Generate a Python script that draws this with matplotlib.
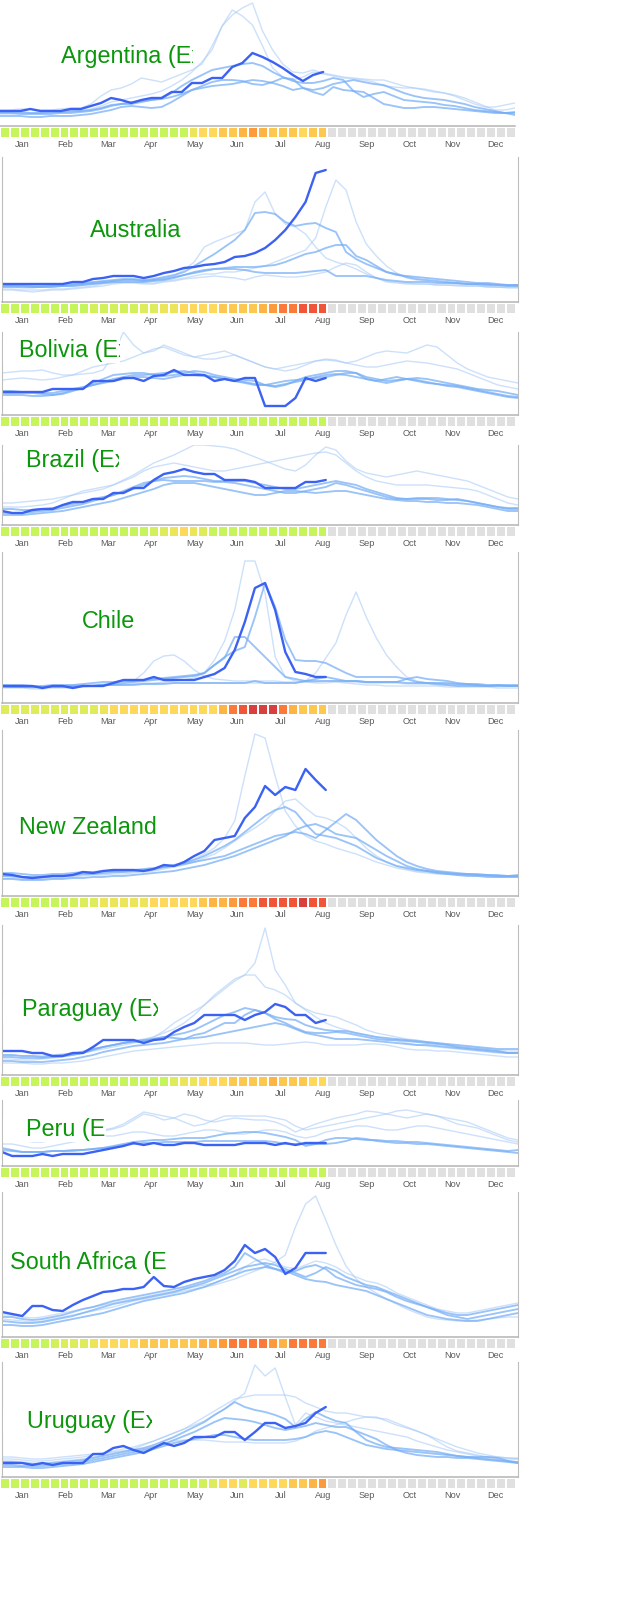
import numpy as np
import matplotlib
matplotlib.use("Agg")
import matplotlib.pyplot as plt
from matplotlib.patches import Rectangle
from matplotlib.transforms import Bbox, TransformedBbox

MONTHS = ["Jan", "Feb", "Mar", "Apr", "May", "Jun", "Jul", "Aug", "Sep", "Oct", "Nov", "Dec"]
LEVEL_COLORS = ["#c5f55a", "#d2f05a", "#dcec5a", "#ece55a", "#fdd85a", "#fdc850",
                "#fdb444", "#fd9a3c", "#fb7a3a", "#f0553a", "#d83f3f"]
NO_DATA = "#e0e0e0"
N_WEEKS = 52

# ---------------- Argentina ----------------
ARG_2009 = [15,15,15,17,15,15,15,17,17,20,23,28,26,23,26,28,28,34,34,43,43,48,48,59,63,73,69,64,58,51,45,51,54]
ARG_MED = [
    [13,13,12,12,12,12,13,13,14,15,17,20,22,22,24,26,28,33,40,46,51,56,58,60,62,63,60,54,49,45,43,43,45,48,46,35,29,32,34,30,26,25,24,23,21,20,18,16,15,14,13,14],
    [10,10,10,9,9,10,10,10,11,12,14,16,19,20,19,18,19,24,30,36,40,44,46,46,45,42,41,44,48,47,38,36,38,42,44,46,44,42,41,37,33,30,28,27,26,24,22,19,17,15,13,11],
    [14,14,14,13,13,14,14,15,15,16,18,21,22,24,25,26,27,29,32,36,38,40,41,42,44,46,45,43,40,36,38,34,31,39,36,35,34,28,22,20,18,18,19,19,18,17,16,15,14,13,13,13],
]
ARG_PALE = [
    [16,16,17,17,16,16,17,18,18,22,30,36,38,42,48,46,44,48,52,56,62,80,100,111,118,123,95,76,62,54,53,56,53,51,49,48,47,46,46,43,40,38,36,34,33,30,26,22,19,19,21,23],
    [12,12,13,13,13,13,14,14,15,17,20,24,26,28,30,32,35,40,46,54,64,76,100,116,110,101,80,58,49,46,49,54,52,50,48,47,46,44,40,39,38,38,37,35,33,31,28,24,20,16,16,18],
]
ARG_FLU = [0,0,0,0,0,0,0,0,0,0,0,0,0,0,0,0,0,0,0,3,4,4,5,5,6,7,6,5,5,5,4,5,5]

# ---------------- Australia ----------------
AUS_2009 = [18,18,18,18,18,18,18,20,20,23,24,26,26,26,24,26,29,31,34,35,37,38,40,45,46,49,54,62,72,85,100,129,132]
AUS_MED = [
    [17,17,17,16,16,17,17,18,19,20,21,22,23,23,22,23,25,27,30,36,42,48,55,62,72,89,90,88,80,76,78,79,74,70,50,43,38,34,30,28,25,23,22,21,20,19,18,18,17,17,16,16],
    [16,16,16,15,15,16,16,17,18,19,20,21,22,22,21,22,23,25,27,29,31,33,34,35,35,35,36,37,40,44,48,50,54,57,57,46,42,36,30,27,26,25,24,23,22,21,20,19,19,18,17,17],
    [15,15,15,15,15,15,16,16,17,18,19,20,20,20,20,21,22,24,27,30,32,33,33,33,32,30,29,29,29,29,30,31,32,26,26,26,26,24,22,21,20,20,20,19,19,19,18,18,18,17,17,17],
]
AUS_PALE = [
    [15,15,14,14,15,15,16,16,17,18,19,20,22,22,21,22,24,26,32,40,55,60,64,68,72,100,110,88,78,75,68,55,44,40,37,33,28,24,21,20,19,18,18,17,17,17,16,16,15,15,15,15],
    [13,13,12,12,12,13,13,14,15,16,18,19,20,20,19,19,21,22,24,26,28,28,30,30,32,34,36,40,44,48,52,64,95,122,112,80,58,46,36,29,24,22,21,20,19,18,18,17,16,15,15,15],
    [12,12,11,10,11,12,12,13,14,15,16,18,19,19,18,18,20,21,23,24,25,26,25,24,22,25,27,26,25,25,26,28,30,35,39,37,30,24,20,19,18,18,18,17,17,16,16,16,15,15,14,14],
]
AUS_FLU = [0,0,0,0,0,0,0,0,0,1,1,1,1,1,2,2,3,3,4,4,4,4,5,5,5,5,6,7,8,8,9,9,9]

# ---------------- Bolivia ----------------
BOL_2009 = [23,23,23,23,23,26,26,26,26,34,34,34,37,37,34,39,40,45,40,40,40,34,36,34,37,37,9,9,9,17,37,34,37]
BOL_MED = [
    [22,22,22,22,21,20,22,25,27,32,36,40,41,42,42,40,39,40,42,44,43,40,38,36,35,34,30,28,30,34,38,40,42,44,44,42,38,36,34,35,36,37,36,34,32,30,28,26,25,24,22,20],
    [24,24,23,23,22,22,24,26,28,30,33,36,38,40,40,41,42,43,44,42,40,38,36,34,32,30,30,29,31,33,35,38,40,41,40,38,36,34,32,34,36,35,33,31,29,28,26,24,22,20,18,17],
    [20,20,20,19,19,20,21,24,27,30,32,34,36,38,38,37,36,38,40,40,39,38,36,34,33,31,30,32,34,35,36,37,38,40,42,42,36,34,36,38,36,34,32,31,30,29,27,25,23,21,19,18],
]
BOL_PALE = [
    [42,43,44,44,45,42,40,40,41,42,45,60,83,70,62,64,70,66,62,58,60,62,64,60,56,52,48,46,44,46,50,54,56,55,52,54,58,62,64,63,62,66,70,68,60,52,46,42,38,36,34,32],
    [35,36,37,36,35,36,38,40,44,48,50,52,54,58,62,66,68,64,60,58,56,56,58,60,56,52,48,46,48,50,52,54,55,54,52,50,48,48,50,52,54,53,52,50,48,46,42,38,34,30,28,26],
]
BOL_FLU = [0,0,0,0,0,0,0,0,0,0,0,0,0,0,0,0,0,0,0,0,0,0,0,0,0,0,0,0,0,0,0,0,0]

# ---------------- Brazil ----------------
BRA_2009 = [14,12,12,15,16,16,20,23,23,26,26,32,32,37,37,45,51,53,56,53,51,51,45,45,45,43,37,37,37,37,43,43,45]
BRA_MED = [
    [16,16,15,15,16,17,19,21,23,26,28,30,33,36,40,44,47,48,49,48,46,44,44,44,44,42,40,38,36,36,38,40,42,44,42,40,36,33,30,27,26,26,26,25,25,26,24,22,20,18,17,17],
    [12,12,12,13,14,15,17,19,21,24,27,30,34,38,42,44,45,44,44,44,44,43,43,42,40,38,36,34,32,32,34,36,38,42,40,37,34,31,28,26,26,27,27,27,26,25,24,22,20,18,16,16],
    [10,10,10,11,12,13,14,16,18,20,22,24,27,30,33,36,40,42,42,42,40,38,36,34,32,30,30,32,34,34,33,32,33,34,34,32,30,28,26,25,24,24,23,23,22,22,21,20,18,16,14,14],
]
BRA_PALE = [
    [22,22,23,24,25,26,28,30,32,34,36,40,45,50,56,62,66,70,75,80,80,79,78,76,72,68,64,60,56,54,60,70,78,75,64,56,52,50,48,50,52,54,52,50,48,46,44,40,36,32,28,26],
    [18,18,18,19,20,22,26,30,34,36,38,40,44,48,54,58,60,62,60,58,56,54,54,56,58,60,62,64,66,68,70,72,73,70,62,54,48,44,42,40,40,40,40,39,38,37,36,34,30,26,22,20],
]
BRA_FLU = [0,0,0,0,0,0,0,0,0,0,0,0,0,0,0,1,2,3,4,3,2,0,0,0,0,0,0,0,0,0,0,0,0]

# ---------------- Chile ----------------
CHL_2009 = [17,17,17,17,15,17,17,15,17,17,17,20,23,23,23,26,23,23,23,23,26,29,35,53,81,115,120,93,51,31,29,26,26]
CHL_MED = [
    [16,16,16,16,16,16,16,17,17,17,18,19,20,21,22,23,24,25,26,27,30,38,46,52,56,86,120,96,63,43,42,42,40,35,30,26,26,26,26,26,24,21,20,19,18,17,17,17,17,17,17,17],
    [18,18,18,17,17,18,18,18,19,20,21,21,22,22,23,24,25,26,27,28,30,38,45,66,66,56,46,36,26,24,22,22,22,22,22,22,21,21,21,21,20,20,20,20,20,19,19,19,18,18,18,18],
    [17,16,16,16,16,17,17,17,17,17,18,18,18,18,19,19,19,20,20,20,20,20,20,20,20,22,20,20,20,20,22,24,26,24,22,22,21,21,21,21,24,26,24,23,22,20,19,18,17,18,17,17],
]
CHL_PALE = [
    [15,15,15,14,14,15,15,15,16,17,18,18,19,19,20,20,21,22,23,25,30,43,62,93,142,142,110,46,26,22,21,20,20,21,20,19,18,18,17,17,17,17,17,17,16,16,16,16,16,15,15,15],
    [16,16,16,15,15,16,16,16,17,17,18,18,18,19,19,19,20,20,20,20,20,20,20,20,20,20,20,20,20,20,22,30,45,60,88,111,86,65,48,36,26,22,20,20,19,19,18,18,17,17,17,17],
    [17,17,16,16,16,17,17,18,18,18,19,20,22,22,30,42,47,48,42,33,27,24,23,22,22,22,22,22,21,21,21,21,22,22,21,21,20,20,20,20,19,19,19,18,18,18,18,17,17,17,17,17],
]
CHL_FLU = [2,2,2,2,2,2,2,2,2,2,3,4,4,4,4,4,4,4,4,4,4,4,6,8,9,10,10,10,8,6,5,5,5]

# ---------------- New Zealand ----------------
NZL_2009 = [22,21,19,18,19,20,20,21,24,23,25,26,26,26,25,27,31,30,34,40,45,56,58,60,78,89,110,101,109,106,127,116,106]
NZL_MED = [
    [23,23,22,21,21,22,22,23,24,24,25,25,26,26,27,28,29,30,32,34,36,38,40,44,48,52,56,60,62,64,62,58,66,74,82,76,66,56,48,40,34,30,27,25,24,23,22,22,21,21,20,21],
    [20,20,19,19,19,20,20,21,22,22,23,24,24,25,26,27,29,31,33,36,40,45,50,56,64,72,80,86,89,84,72,62,60,58,54,50,44,38,34,30,28,26,25,24,23,22,22,21,21,20,20,20],
    [17,17,16,16,16,17,17,18,18,19,19,20,20,21,22,23,24,25,27,29,31,34,37,40,44,48,52,56,60,66,70,72,68,62,60,58,52,46,40,35,30,27,25,23,22,21,20,20,19,19,19,19],
]
NZL_PALE = [
    [20,19,18,18,18,19,19,20,21,22,22,23,24,24,25,26,28,30,33,37,42,48,58,75,120,162,158,120,85,70,60,55,52,48,45,42,38,34,31,28,26,24,23,22,22,21,21,20,20,19,19,19],
    [18,18,17,17,17,18,18,19,20,21,21,22,22,23,24,25,27,29,31,34,38,42,48,55,62,68,75,85,95,97,88,80,78,74,68,58,48,40,34,30,27,25,24,23,22,22,21,21,20,20,20,20],
]
NZL_FLU = [0,0,0,0,0,0,0,1,2,2,3,3,3,3,3,4,4,4,4,4,5,6,6,7,8,8,9,9,9,9,10,9,9]

# ---------------- Paraguay ----------------
PRY_2009 = [24,24,24,22,22,19,19,22,22,28,35,35,35,35,32,35,36,43,48,52,60,60,60,60,55,60,63,71,68,60,60,52,55]
PRY_MED = [
    [18,18,17,17,17,18,19,20,22,25,28,30,32,34,35,36,38,40,42,45,50,55,60,63,67,65,62,56,52,47,43,42,42,43,42,40,38,36,35,35,34,33,32,31,30,28,27,26,25,24,22,22],
    [20,20,19,19,18,19,20,21,23,26,28,30,32,33,34,36,38,37,36,40,42,47,52,52,60,65,62,58,56,55,50,47,45,44,44,42,40,38,37,36,35,34,33,32,31,30,29,28,27,26,26,26],
    [14,14,13,13,13,14,15,16,18,20,23,25,27,29,30,31,32,34,36,37,38,40,42,44,46,48,50,52,50,46,42,40,38,36,36,36,35,34,33,32,31,30,30,29,28,27,26,25,24,23,22,22],
]
PRY_PALE = [
    [20,20,19,19,19,20,21,22,24,26,28,30,32,34,36,38,42,46,52,60,70,80,88,96,100,112,147,105,90,72,66,62,60,58,54,50,45,42,40,38,36,35,33,32,30,29,28,27,26,25,24,24],
    [16,16,15,15,16,17,18,20,22,24,26,28,30,32,34,38,44,52,58,64,70,78,86,94,100,100,88,85,80,72,65,58,52,48,45,42,40,38,36,34,32,30,29,28,27,26,25,24,23,22,22,22],
    [12,12,12,11,11,12,12,13,14,16,18,20,22,24,25,26,27,28,29,30,31,32,32,32,32,31,30,30,31,32,33,32,30,30,30,30,31,31,30,28,26,25,25,24,24,23,22,21,20,19,18,18],
]
PRY_FLU = [0,0,0,0,0,0,0,0,0,0,0,0,0,0,0,0,0,2,3,3,4,4,4,5,5,5,5,6,5,5,5,4,4]

# ---------------- Peru ----------------
PER_2009 = [14,10,10,10,12,10,12,12,12,14,16,18,20,23,21,23,21,21,23,23,21,21,21,21,23,23,23,21,23,21,23,23,23]
PER_MED = [
    [18,16,14,14,14,15,15,15,16,17,18,20,22,24,25,26,26,27,28,28,28,30,32,33,34,34,33,31,29,26,20,22,26,28,28,27,26,26,25,25,24,24,23,22,21,20,19,18,17,16,15,16],
    [16,15,14,14,14,15,15,16,16,17,18,19,21,22,23,23,24,24,24,24,25,25,25,25,25,25,25,24,22,22,22,22,22,23,25,28,27,25,24,23,23,22,22,21,20,19,18,17,16,15,14,13],
]
PER_PALE = [
    [30,32,34,33,30,28,28,30,32,34,35,37,40,46,52,50,46,48,52,50,46,44,46,48,47,46,46,44,40,34,38,42,45,48,50,52,55,54,52,55,56,54,52,50,48,46,44,40,36,32,28,26],
    [28,28,26,24,24,26,28,30,32,34,36,38,42,48,54,52,50,48,44,40,42,46,50,50,50,50,50,48,46,40,36,38,40,42,44,46,48,50,52,50,48,50,52,50,46,42,40,38,34,30,26,24],
    [22,22,20,18,18,20,22,24,26,28,30,30,32,34,34,32,30,30,32,34,36,36,34,32,32,34,36,36,34,30,28,30,34,36,38,40,40,38,36,36,38,40,40,38,36,34,32,30,28,26,24,22],
]
PER_FLU = [0,0,0,0,0,0,0,0,0,0,0,0,0,0,0,0,0,0,0,0,0,0,0,0,0,0,0,0,0,0,0,0,0]

# ---------------- South Africa ----------------
ZAF_2009 = [25,23,21,31,31,27,26,32,37,41,45,46,48,48,50,60,51,50,55,58,60,62,67,76,92,84,88,80,63,69,84,84,84]
ZAF_MED = [
    [20,20,18,17,18,20,22,25,28,30,33,36,38,40,42,44,46,48,50,53,56,60,64,70,84,78,72,68,64,66,70,72,68,60,56,52,50,48,45,40,36,33,30,27,24,22,22,24,26,28,30,32],
    [16,15,14,14,15,17,19,21,24,27,30,33,35,37,39,41,43,45,48,51,54,58,62,66,70,72,74,72,68,64,60,64,70,66,60,56,52,50,46,42,38,34,30,26,22,20,18,20,22,24,26,28],
    [12,12,11,11,12,14,16,18,20,22,24,27,30,33,36,38,40,42,44,47,50,54,58,62,66,68,70,68,66,62,58,56,55,52,50,48,46,42,38,34,30,26,22,20,18,17,16,16,18,20,22,24],
]
ZAF_PALE = [
    [18,17,16,15,16,18,20,22,24,26,28,30,33,36,38,40,42,44,46,48,50,52,55,58,62,66,70,75,82,110,133,141,117,92,71,58,50,44,38,33,28,24,20,18,17,16,16,17,18,19,20,20],
    [22,22,20,19,20,22,24,26,28,30,32,34,36,38,40,42,44,46,48,50,52,54,58,62,70,76,78,74,70,68,72,76,74,70,64,60,56,54,50,44,40,36,32,28,26,24,24,26,28,30,32,34],
]
ZAF_FLU = [0,0,0,0,0,1,2,2,2,3,4,4,4,4,5,5,5,5,5,5,6,6,7,8,8,8,8,7,6,8,8,8,8]

# ---------------- Uruguay ----------------
URY_2009 = [14,14,14,12,14,12,14,14,14,23,23,29,31,27,24,29,34,31,34,40,40,40,45,45,37,45,54,54,49,51,54,64,70]
URY_MED = [
    [15,15,14,13,13,14,15,16,17,19,21,23,25,27,29,32,36,40,45,50,55,62,68,75,70,67,65,62,58,50,58,65,60,56,54,45,37,33,30,29,28,27,26,25,23,21,20,20,20,19,16,14],
    [12,12,11,11,11,12,13,14,15,17,19,21,23,25,27,30,33,37,41,45,50,55,59,58,57,55,52,49,47,49,51,54,52,50,50,46,42,38,32,27,24,22,21,20,20,19,19,18,17,16,15,14],
    [10,10,10,9,9,10,11,12,13,15,17,19,21,23,25,28,31,34,36,38,40,42,42,40,38,37,37,37,37,38,40,44,46,44,40,36,32,30,28,27,26,25,24,23,22,21,20,19,18,17,16,15],
]
URY_PALE = [
    [16,16,15,14,14,15,16,17,18,20,22,24,26,28,32,36,40,44,48,52,56,62,68,76,84,112,101,109,80,52,64,60,56,54,52,50,48,46,44,42,40,36,33,30,27,25,23,21,20,19,18,18],
    [18,18,17,16,16,17,18,19,20,22,24,26,28,30,33,36,40,44,48,54,60,66,72,78,80,82,82,82,82,80,74,70,66,64,64,62,60,59,58,54,50,46,42,38,34,30,27,24,22,20,19,18],
    [20,20,19,18,18,19,20,21,22,23,24,25,26,27,28,30,33,36,37,37,37,36,35,35,35,34,34,34,34,36,40,46,49,52,55,58,60,60,56,52,49,46,42,36,30,26,24,22,20,20,19,19],
]
URY_FLU = [0,0,0,0,0,0,0,0,0,0,0,0,0,0,0,0,0,0,0,0,1,2,4,4,2,4,4,4,4,5,5,6,7]

# ---------------- layout (pixel geometry and titles) ----------------
PANELS = [
    # title, current, medium, pale, flu levels, top, bottom, title x, baseline, clip x, framed
    ("Argentina (Experimental)", ARG_2009, ARG_MED, ARG_PALE, ARG_FLU, 0, 126, 61, 63, 193, False),
    ("Australia", AUS_2009, AUS_MED, AUS_PALE, AUS_FLU, 157, 302, 90, 237, None, True),
    ("Bolivia (Experimental)", BOL_2009, BOL_MED, BOL_PALE, BOL_FLU, 332, 415, 19, 357, 120, True),
    ("Brazil (Experimental)", BRA_2009, BRA_MED, BRA_PALE, BRA_FLU, 445, 525, 26, 467, 119, True),
    ("Chile", CHL_2009, CHL_MED, CHL_PALE, CHL_FLU, 552, 703, 82, 628, None, True),
    ("New Zealand", NZL_2009, NZL_MED, NZL_PALE, NZL_FLU, 730, 896, 19, 834, None, True),
    ("Paraguay (Experimental)", PRY_2009, PRY_MED, PRY_PALE, PRY_FLU, 925, 1075, 22, 1016, 158, True),
    ("Peru (Experimental)", PER_2009, PER_MED, PER_PALE, PER_FLU, 1100, 1166, 26, 1136, 106, True),
    ("South Africa (Experimental)", ZAF_2009, ZAF_MED, ZAF_PALE, ZAF_FLU, 1192, 1337, 10, 1269, 166, True),
    ("Uruguay (Experimental)", URY_2009, URY_MED, URY_PALE, URY_FLU, 1362, 1477, 27, 1428, 152, True),
]

W, H = 640, 1600
fig = plt.figure(figsize=(W / 100, H / 100), dpi=100)
fig.patch.set_facecolor("white")

def fx(x):
    return x / W

def fy(y):
    return 1 - y / H

FONT = ["Liberation Sans", "DejaVu Sans"]
month_pos = [(m + 0.5) * N_WEEKS / 12 for m in range(12)]

for (name, cur, med, pale, flu, top, bot, tx, ty, clip, framed) in PANELS:
    left = 2 if framed else 0
    right = 518 if framed else 515
    ax = fig.add_axes([fx(left), fy(bot), fx(right - left), (bot - top) / H])
    ax.set_facecolor("none")
    ax.set_xlim(0, N_WEEKS - 1)
    ax.set_ylim(0, bot - top)
    for s in pale:
        ax.plot(np.arange(len(s)), s, color="#a4c8f6", lw=1.0, alpha=0.55,
                solid_joinstyle="round")
    for s in med:
        ax.plot(np.arange(len(s)), s, color="#74adf6", lw=1.35, alpha=0.72,
                solid_joinstyle="round")
    ax.plot(np.arange(len(cur)), cur, color="#3b62f3", lw=1.7,
            solid_joinstyle="round", solid_capstyle="round")
    ax.set_xticks([])
    ax.set_yticks([])
    ax.spines["top"].set_visible(False)
    ax.spines["bottom"].set_color("#b4b4b4")
    ax.spines["bottom"].set_linewidth(1.1)
    for side in ("left", "right"):
        ax.spines[side].set_visible(framed)
        ax.spines[side].set_color("#bdbdbd")
        ax.spines[side].set_linewidth(0.8)

    # weekly flu-level strip
    sax = fig.add_axes([fx(1), fy(bot + 11), fx(516), 9 / H])
    sax.set_facecolor("none")
    sax.set_xlim(0, N_WEEKS)
    sax.set_ylim(0, 1)
    colors = [LEVEL_COLORS[v] for v in flu] + [NO_DATA] * (N_WEEKS - len(flu))
    sax.bar(np.arange(N_WEEKS), 1, width=0.8, align="edge", color=colors, linewidth=0)
    for sp in sax.spines.values():
        sp.set_visible(False)
    sax.set_yticks([])
    sax.set_xticks(month_pos)
    sax.set_xticklabels(MONTHS, fontsize=6.6, color="#5a5a5a", family=FONT)
    sax.tick_params(axis="x", length=0, pad=2.2)

    # title (clipped like the original overflow box)
    t = fig.text(fx(tx), fy(ty), name, fontsize=16.8, color="#0b960b",
                 family=FONT, ha="left", va="baseline", zorder=4)
    if clip is not None:
        bx0 = 3 if framed else 0
        fig.add_artist(Rectangle((fx(bx0), fy(ty + 6)), fx(clip - bx0), 25 / H,
                                 transform=fig.transFigure, facecolor="white",
                                 edgecolor="none", zorder=2))
        cb = TransformedBbox(Bbox.from_extents(0, fy(ty + 10), fx(clip), fy(ty - 25)),
                             fig.transFigure)
        t.set_clip_box(cb)
        t.set_clip_on(True)

fig.savefig("out.png", dpi=100, facecolor="white")
